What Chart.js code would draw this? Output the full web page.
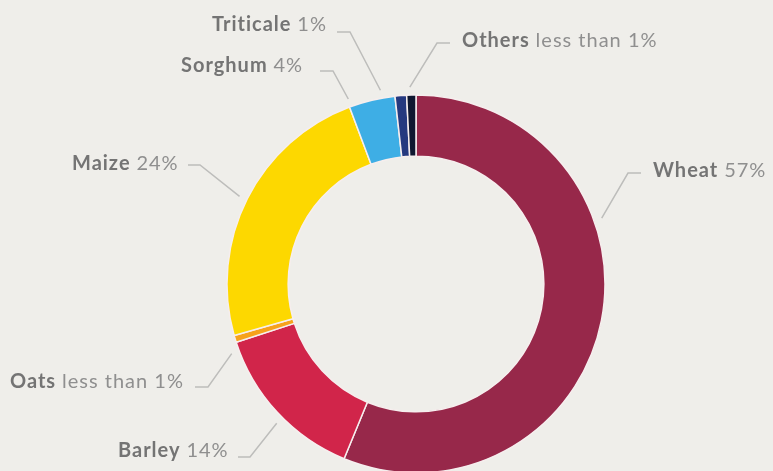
<!DOCTYPE html>
<html>
<head>
<meta charset="utf-8">
<script src="https://cdn.jsdelivr.net/npm/chart.js@4/dist/chart.umd.min.js"></script>
<style>
  html, body { margin: 0; padding: 0; background: #efeeea; overflow: hidden; }
  #wrap { width: 773px; height: 471px; position: relative; }
</style>
</head>
<body>
<div id="wrap"><canvas id="chart" width="773" height="471"></canvas></div>
<script>
// Grain crop shares (%), clockwise from the top
const categories = ['Wheat', 'Barley', 'Oats', 'Maize', 'Sorghum', 'Triticale', 'Others'];
const shares = [57, 14, 0.6, 24, 4, 1, 0.8];
const shareLabels = ['57%', '14%', 'less than 1%', '24%', '4%', '1%', 'less than 1%'];
const colors = ['#97284a', '#d1254a', '#f6a21c', '#fdd800', '#3eaee5', '#25397f', '#0e1730'];

// Callout placement: text anchor (left, baseline), elbow of the leader line,
// and the angle (deg, clockwise from top) where the leader meets the ring.
const callouts = [
  { text: [653, 177], elbow: [[641, 173], [628, 173]], angle: 70.5 },
  { text: [118, 457], elbow: [[238, 457], [250, 457]], angle: 225 },
  { text: [10, 388],  elbow: [[195, 387], [208, 387]], angle: 249.3 },
  { text: [72, 170],  elbow: [[188, 165], [200, 165]], angle: 296.4 },
  { text: [181, 72],  elbow: [[320, 71], [333, 71]],   angle: 339.9 },
  { text: [212, 31],  elbow: [[337, 32], [350, 32]],   angle: 349.6 },
  { text: [462, 47],  elbow: [[450, 43], [437, 43]],   angle: 358.2 }
];

const calloutPlugin = {
  id: 'callouts',
  afterDatasetsDraw(chart) {
    const ctx = chart.ctx;
    const arc = chart.getDatasetMeta(0).data[0];
    const cx = arc.x, cy = arc.y, r = arc.outerRadius + 8;
    ctx.save();
    callouts.forEach((c, i) => {
      const a = c.angle * Math.PI / 180;
      const ex = cx + r * Math.sin(a), ey = cy - r * Math.cos(a);
      ctx.beginPath();
      ctx.moveTo(c.elbow[0][0], c.elbow[0][1]);
      ctx.lineTo(c.elbow[1][0], c.elbow[1][1]);
      ctx.lineTo(ex, ey);
      ctx.strokeStyle = '#bdbdbb';
      ctx.lineWidth = 1.5;
      ctx.stroke();

      ctx.textBaseline = 'alphabetic';
      ctx.textAlign = 'left';
      ctx.letterSpacing = '1px';
      ctx.font = 'bold 20px Lato';
      ctx.fillStyle = '#747474';
      const name = categories[i];
      ctx.fillText(name, c.text[0], c.text[1]);
      const w = ctx.measureText(name + ' ').width;
      ctx.font = '20px Lato';
      ctx.fillStyle = '#8f8f8f';
      ctx.fillText(shareLabels[i], c.text[0] + w, c.text[1]);
    });
    ctx.restore();
  }
};

new Chart(document.getElementById('chart'), {
  type: 'doughnut',
  data: {
    labels: categories,
    datasets: [{
      data: shares,
      backgroundColor: colors,
      borderColor: '#f6eeee',
      borderWidth: 1.5,
      clip: false
    }]
  },
  options: {
    responsive: false,
    animation: false,
    radius: 189,
    cutout: 126,
    layout: { padding: { left: 59, right: 0, top: 97, bottom: 0 } },
    plugins: { legend: { display: false }, tooltip: { enabled: false } }
  },
  plugins: [calloutPlugin]
});
</script>
</body>
</html>
